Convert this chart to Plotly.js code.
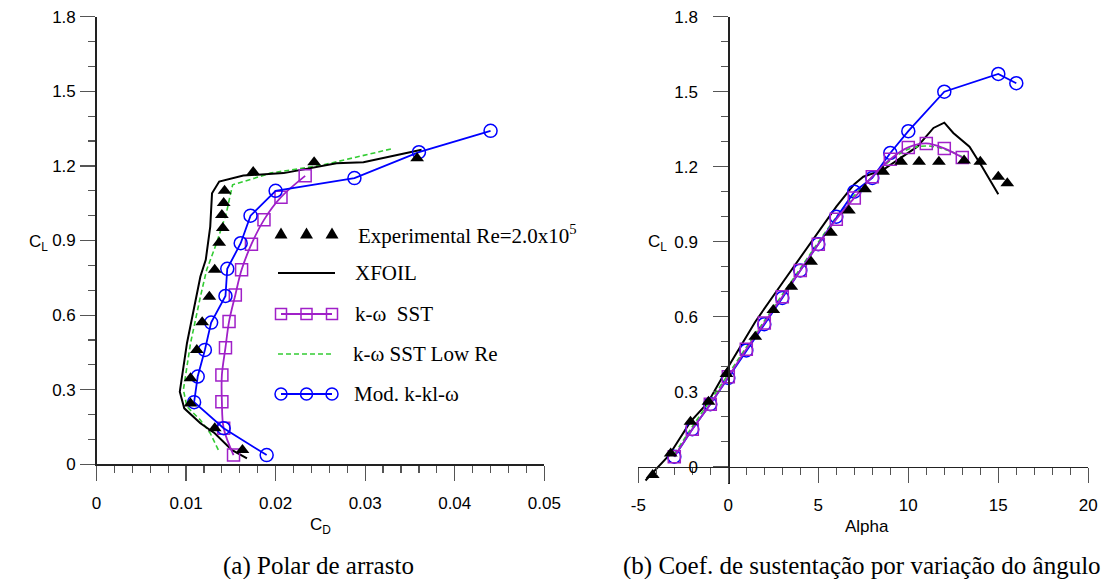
<!DOCTYPE html>
<html>
<head>
<meta charset="utf-8">
<script src="https://cdn.plot.ly/plotly-3.0.1.min.js"></script>
<style>html,body{margin:0;padding:0;background:#fff;}#chart{width:1104px;height:579px;}</style>
</head>
<body>
<div id="chart"></div>
<script>
// ---------- (a) drag polar: CL vs CD ----------
var expLeftCd = [0.0358,0.0243,0.0175,0.0143,0.0142,0.0140,0.0141,0.0137,0.0132,0.0126,0.0118,0.0112,0.0105,0.0105,0.0132,0.0163];
var expLeftCl = [1.231,1.215,1.175,1.100,1.051,1.003,0.950,0.891,0.782,0.674,0.571,0.460,0.346,0.245,0.145,0.058];
var xfoilLeftCd = [0.0168,0.0151,0.0132,0.0116,0.0098,0.0093,0.0101,0.0116,0.0122,0.0127,0.0129,0.0137,0.0164,0.0209,0.0268,0.0298,0.0363];
var xfoilLeftCl = [0.024,0.058,0.125,0.165,0.225,0.292,0.487,0.755,0.822,0.956,1.090,1.137,1.161,1.171,1.211,1.215,1.265];
var sstLeftCd = [0.0153,0.0142,0.0140,0.0140,0.0144,0.0148,0.0155,0.0162,0.0173,0.0187,0.0206,0.0233];
var sstLeftCl = [0.037,0.145,0.252,0.359,0.469,0.574,0.681,0.782,0.885,0.983,1.074,1.160];
var lowReLeftCd = [0.0136,0.0127,0.0116,0.0101,0.0097,0.0105,0.0116,0.0123,0.0134,0.0145,0.0149,0.0152,0.0177,0.0194,0.0253,0.0330];
var lowReLeftCl = [0.058,0.125,0.178,0.232,0.299,0.487,0.674,0.782,0.889,1.010,1.077,1.124,1.151,1.171,1.204,1.269];
var kklLeftCd = [0.0190,0.0142,0.0109,0.0113,0.0121,0.0128,0.0144,0.0146,0.0161,0.0172,0.0200,0.0288,0.0360,0.0440];
var kklLeftCl = [0.037,0.145,0.250,0.353,0.460,0.570,0.677,0.786,0.889,1.000,1.100,1.151,1.255,1.341];

// ---------- (b) lift curve: CL vs alpha ----------
var expAlpha = [-4.2,-3.2,-2.1,-1.1,-0.1,1.5,2.5,3.5,4.6,5.7,6.7,7.6,8.6,9.6,10.6,11.7,13.1,14.0,15.0,15.5];
var expCl = [-0.033,0.053,0.18,0.26,0.371,0.52,0.627,0.72,0.82,0.936,1.025,1.11,1.18,1.22,1.22,1.22,1.225,1.22,1.16,1.134];
var xfoilAlpha = [-4.6,-3.3,-2.1,-1.15,0,1.5,3,4.7,6,7,7.5,8.6,9.6,10.5,11.4,12,12.5,13.4,14.1,15];
var xfoilCl = [-0.055,0.045,0.18,0.255,0.40,0.58,0.735,0.905,1.04,1.13,1.16,1.187,1.235,1.28,1.355,1.376,1.335,1.28,1.20,1.09];
var sstAlpha = [-3,-2,-1,0,1,2,3,4,5,6,7,8,9,10,11,12,13];
var sstCl = [0.04,0.15,0.25,0.36,0.47,0.575,0.68,0.785,0.89,0.99,1.075,1.16,1.23,1.277,1.293,1.273,1.237];
var lowReAlpha = [-3,-2,-1,0,1,2,3,4,5,6,7,8,9,10,11,12,13];
var lowReCl = [0.05,0.16,0.265,0.37,0.478,0.583,0.688,0.793,0.898,0.998,1.085,1.16,1.225,1.27,1.283,1.27,1.24];
var kklAlpha = [-3,-2,-1,0,1,2,3,4,5,6,7,8,9,10,12,15,16];
var kklCl = [0.04,0.15,0.25,0.355,0.465,0.57,0.675,0.785,0.89,1.0,1.1,1.155,1.255,1.342,1.5,1.571,1.534];

// ---------- tick labels ----------
var cdTickVals = [0,0.01,0.02,0.03,0.04,0.05];
var cdTickText = ['0','0.01','0.02','0.03','0.04','0.05'];
var clTickVals = [0,0.3,0.6,0.9,1.2,1.5,1.8];
var clTickText = ['0','0.3','0.6','0.9','1.2','1.5','1.8'];
var alphaTickVals = [-5,0,5,10,15,20];
var alphaTickText = ['-5','0','5','10','15','20'];

// ---------- legend texts ----------
var legendTexts = ['Experimental Re=2.0x10<sup>5</sup>','XFOIL','k-\u03c9\u00a0\u00a0SST','k-\u03c9 SST Low Re','Mod. k-kl-\u03c9'];

var C_BLACK = '#000000', C_PURPLE = '#a020c8', C_GREEN = '#33cc33', C_BLUE = '#0000ff';

var W = 1104, H = 579;
function px(x){ return x / W; }
function py(y){ return 1 - y / H; }

function expTrace(x, y, xa, ya){
  return {x:x, y:y, xaxis:xa, yaxis:ya, type:'scatter', mode:'markers', cliponaxis:false,
    marker:{symbol:'triangle-up', size:12, color:C_BLACK}};
}
function lineTrace(x, y, xa, ya, color, width, dash, shape){
  return {x:x, y:y, xaxis:xa, yaxis:ya, type:'scatter', mode:'lines', cliponaxis:false,
    line:{color:color, width:width, dash:dash||'solid', shape:shape||'linear', smoothing:1}};
}
function mlTrace(x, y, xa, ya, color, symbol, size, shape){
  return {x:x, y:y, xaxis:xa, yaxis:ya, type:'scatter', mode:'lines+markers', cliponaxis:false,
    line:{color:color, width:1.8, shape:shape||'linear', smoothing:1},
    marker:{symbol:symbol, size:size, color:color, line:{color:color, width:1.5}}};
}

var data = [
  lineTrace(lowReLeftCd, lowReLeftCl, 'x', 'y', C_GREEN, 1.6, '5px,3px'),
  lineTrace(xfoilLeftCd, xfoilLeftCl, 'x', 'y', C_BLACK, 2),
  mlTrace(sstLeftCd, sstLeftCl, 'x', 'y', C_PURPLE, 'square-open', 12, 'spline'),
  mlTrace(kklLeftCd, kklLeftCl, 'x', 'y', C_BLUE, 'circle-open', 13),
  expTrace(expLeftCd, expLeftCl, 'x', 'y'),

  lineTrace(xfoilAlpha, xfoilCl, 'x2', 'y2', C_BLACK, 2),
  lineTrace(lowReAlpha, lowReCl, 'x2', 'y2', C_GREEN, 1.6, '5px,3px', 'spline'),
  mlTrace(kklAlpha, kklCl, 'x2', 'y2', C_BLUE, 'circle-open', 13),
  mlTrace(sstAlpha, sstCl, 'x2', 'y2', C_PURPLE, 'square-open', 12, 'spline'),
  expTrace(expAlpha, expCl, 'x2', 'y2')
];

var tickFontX = {family:'Liberation Sans Narrow, Arial Narrow, Liberation Sans, Arial, sans-serif', size:17, color:'#000'};
var tickFontY = {family:'Liberation Sans, Arial, sans-serif', size:17, color:'#000'};

function axisBase(){
  return {showgrid:false, zeroline:false, showline:true, linecolor:'#222', linewidth:1.3,
    ticks:'outside', ticklen:15, tickwidth:1.2, tickcolor:'#555', automargin:false, fixedrange:true};
}

var xaxis = Object.assign(axisBase(), {domain:[px(96.5), px(544.3)], range:[0,0.05], anchor:'y',
  tickmode:'array', tickvals:cdTickVals, ticktext:cdTickText, tickfont:tickFontX, ticklabelstandoff:8,
  minor:{dtick:0.002, ticks:'outside', ticklen:7, tickcolor:'#555', tickwidth:1.2, showgrid:false}});
var yaxis = Object.assign(axisBase(), {domain:[py(464.3), py(16.7)], range:[0,1.8], anchor:'x',
  tickmode:'array', tickvals:clTickVals, ticktext:clTickText, tickfont:tickFontY, ticklabelstandoff:1,
  minor:{dtick:0.1, tick0:0, ticks:'outside', ticklen:7, tickcolor:'#555', tickwidth:1.2, showgrid:false}});

var yMin2 = -0.07;
var y2Bottom = 466.7 - yMin2 * 250;
var xaxis2 = Object.assign(axisBase(), {domain:[px(638.3), px(1088.3)], range:[-5,20], anchor:'free', position:py(466.7),
  tickmode:'array', tickvals:alphaTickVals, ticktext:alphaTickText, tickfont:tickFontX, ticklabelstandoff:8,
  minor:{dtick:1, tick0:0, ticks:'outside', ticklen:7, tickcolor:'#555', tickwidth:1.2, showgrid:false}});
var yaxis2 = Object.assign(axisBase(), {domain:[py(y2Bottom), py(16.7)], range:[yMin2,1.8], anchor:'free', position:px(728.3),
  tickmode:'array', tickvals:clTickVals, ticktext:clTickText, tickfont:tickFontY, ticklabelstandoff:12,
  minor:{dtick:0.1, tick0:0, ticks:'outside', ticklen:7, tickcolor:'#555', tickwidth:1.2, showgrid:false}});

var titleFont = {family:'Liberation Sans, Arial, sans-serif', size:17, color:'#000'};
var serif = 'Liberation Serif, Times New Roman, serif';

var annotations = [
  {text:'C<sub>D</sub>', x:px(320), y:py(526), xref:'paper', yref:'paper', showarrow:false, font:titleFont, xanchor:'center', yanchor:'middle'},
  {text:'C<sub>L</sub>', x:px(38), y:py(243), xref:'paper', yref:'paper', showarrow:false, font:titleFont, xanchor:'center', yanchor:'middle'},
  {text:'C<sub>L</sub>', x:px(657), y:py(243), xref:'paper', yref:'paper', showarrow:false, font:titleFont, xanchor:'center', yanchor:'middle'},
  {text:'Alpha', x:px(867), y:py(526), xref:'paper', yref:'paper', showarrow:false, font:titleFont, xanchor:'center', yanchor:'middle'},
  {text:'(a) Polar de arrasto', x:px(318), y:py(566), xref:'paper', yref:'paper', showarrow:false, font:{family:serif, size:25, color:'#000'}, xanchor:'center', yanchor:'middle'},
  {text:'(b) Coef. de sustenta\u00e7\u00e3o por varia\u00e7\u00e3o do \u00e2ngulo', x:px(862), y:py(566), xref:'paper', yref:'paper', showarrow:false, font:{family:serif, size:25, color:'#000'}, xanchor:'center', yanchor:'middle'}
];

// ---------- hand-drawn legend (three sample markers per row, as in the original) ----------
var legRowsY = [234, 273, 314, 354, 394];
var legTextX = [356, 353, 353, 351, 352];
var legSampleX = [281, 306.5, 332];
var shapes = [];
legendTexts.forEach(function(t, i){
  annotations.push({text:t, x:px(legTextX[i]), y:py(legRowsY[i]), xref:'paper', yref:'paper', showarrow:false,
    xanchor:'left', yanchor:'middle', font:{family:serif, size:21, color:'#000'}});
});
// row 0: triangles
legSampleX.forEach(function(sx){
  shapes.push({type:'path', xref:'paper', yref:'paper', xsizemode:'pixel', ysizemode:'pixel',
    xanchor:px(sx), yanchor:py(legRowsY[0]), path:'M -6.5,-4.5 L 6.5,-4.5 L 0,6.5 Z',
    fillcolor:C_BLACK, line:{width:0}});
});
// row 1: XFOIL line
shapes.push({type:'line', xref:'paper', yref:'paper', x0:px(278), x1:px(335), y0:py(legRowsY[1]), y1:py(legRowsY[1]), line:{color:C_BLACK, width:2}});
// row 2: SST line + squares
shapes.push({type:'line', xref:'paper', yref:'paper', x0:px(281), x1:px(332), y0:py(legRowsY[2]), y1:py(legRowsY[2]), line:{color:C_PURPLE, width:1.8}});
legSampleX.forEach(function(sx){
  shapes.push({type:'rect', xref:'paper', yref:'paper', xsizemode:'pixel', ysizemode:'pixel',
    xanchor:px(sx), yanchor:py(legRowsY[2]), x0:-5.5, x1:5.5, y0:-5.5, y1:5.5, line:{color:C_PURPLE, width:1.5}});
});
// row 3: low-Re dashed
shapes.push({type:'line', xref:'paper', yref:'paper', x0:px(278), x1:px(332), y0:py(legRowsY[3]), y1:py(legRowsY[3]), line:{color:C_GREEN, width:1.6, dash:'5px,3px'}});
// row 4: kkl line + circles
shapes.push({type:'line', xref:'paper', yref:'paper', x0:px(281), x1:px(332), y0:py(legRowsY[4]), y1:py(legRowsY[4]), line:{color:C_BLUE, width:1.8}});
legSampleX.forEach(function(sx){
  shapes.push({type:'circle', xref:'paper', yref:'paper', xsizemode:'pixel', ysizemode:'pixel',
    xanchor:px(sx), yanchor:py(legRowsY[4]), x0:-6, x1:6, y0:-6, y1:6, line:{color:C_BLUE, width:1.5}});
});

var layout = {
  width:W, height:H, margin:{l:0, r:0, t:0, b:0, pad:0}, autosize:false,
  paper_bgcolor:'#fff', plot_bgcolor:'rgba(0,0,0,0)', showlegend:false,
  font:{family:'Liberation Sans, Arial, sans-serif', color:'#000'},
  xaxis:xaxis, yaxis:yaxis, xaxis2:xaxis2, yaxis2:yaxis2,
  annotations:annotations, shapes:shapes
};

Plotly.newPlot('chart', data, layout, {displayModeBar:false, staticPlot:true});
</script>
</body>
</html>
